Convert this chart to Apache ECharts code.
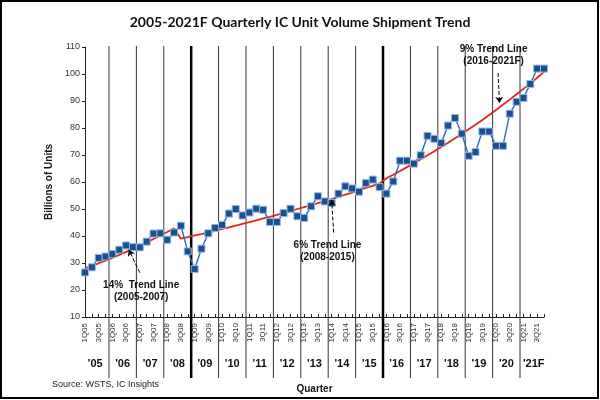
<!DOCTYPE html>
<html><head><meta charset="utf-8">
<script src="https://cdn.jsdelivr.net/npm/echarts@6/dist/echarts.min.js"></script>
<style>html,body{margin:0;padding:0;background:#fff}#c{width:600px;height:400px}</style>
</head><body><div id="c"></div>
<script>
const quarters = ['1Q05','2Q05','3Q05','4Q05','1Q06','2Q06','3Q06','4Q06','1Q07','2Q07','3Q07','4Q07',
'1Q08','2Q08','3Q08','4Q08','1Q09','2Q09','3Q09','4Q09','1Q10','2Q10','3Q10','4Q10',
'1Q11','2Q11','3Q11','4Q11','1Q12','2Q12','3Q12','4Q12','1Q13','2Q13','3Q13','4Q13',
'1Q14','2Q14','3Q14','4Q14','1Q15','2Q15','3Q15','4Q15','1Q16','2Q16','3Q16','4Q16',
'1Q17','2Q17','3Q17','4Q17','1Q18','2Q18','3Q18','4Q18','1Q19','2Q19','3Q19','4Q19',
'1Q20','2Q20','3Q20','4Q20','1Q21','2Q21','3Q21','4Q21'];
const yearLabels = ["'05","'06","'07","'08","'09","'10","'11","'12","'13","'14","'15","'16","'17","'18","'19","'20","'21F"];
const thickYears = ["'09","'16"];
const units = [26.5,28.4,31.9,32.4,33.3,34.9,36.5,35.9,35.8,37.9,40.9,41.0,
38.6,41.3,43.8,34.3,27.8,35.3,41.0,43.0,44.1,48.3,50.0,47.6,
48.7,50.1,49.7,45.2,45.2,48.5,50.1,47.3,46.7,51.0,54.7,52.8,
52.2,55.7,58.4,57.6,56.4,59.6,60.9,58.1,55.7,60.2,67.9,67.9,
66.8,69.9,77.1,76.0,74.4,80.9,83.7,77.9,69.7,71.1,78.7,78.7,
73.4,73.4,85.3,89.7,91.1,96.3,102.0,102.0];
const trend = [28.0,28.9,29.9,30.9,31.9,33.0,34.1,35.2,36.4,37.6,38.9,40.2,
41.5,42.9,39.0,39.6,40.2,40.7,41.3,41.9,42.6,43.2,43.8,44.5,
45.1,45.8,46.5,47.1,47.8,48.5,49.2,50.0,50.7,51.4,52.2,53.0,
53.7,54.5,55.3,56.1,57.0,57.8,58.6,59.5,61.4,62.7,64.1,65.5,
66.9,68.4,69.9,71.4,73.0,74.5,76.2,77.8,79.5,81.2,83.0,84.8,
86.7,88.6,90.5,92.5,94.5,96.5,98.6,100.8];

const chart = echarts.init(document.getElementById('c'));
const FONT = 'Liberation Sans, Arial, sans-serif';
chart.setOption({
  animation: false,
  backgroundColor: '#fff',
  title: {
    text: '2005-2021F Quarterly IC Unit Volume Shipment Trend',
    left: 'center', top: 10,
    textStyle: {fontFamily: 'Lato', fontWeight: 'bold', fontSize: 14, color: '#111'}
  },
  graphic: [
    {type: 'rect', shape: {x: 1, y: 1, width: 597, height: 397}, style: {fill: 'none', stroke: '#000', lineWidth: 2}, silent: true},
    {type: 'text', left: 52, top: 380, style: {text: 'Source: WSTS, IC Insights', font: '9px ' + FONT, fill: '#222'}}
  ],
  grid: {left: 85, right: 56, top: 47, bottom: 83},
  xAxis: [{
    type: 'category', data: quarters, boundaryGap: false,
    name: 'Quarter', nameLocation: 'middle', nameGap: 67,
    nameTextStyle: {fontFamily: FONT, fontWeight: 'bold', fontSize: 10, color: '#111'},
    axisLine: {lineStyle: {color: '#222', width: 1}},
    axisTick: {show: true, interval: 0, inside: true, length: 3, lineStyle: {color: '#222'}},
    axisLabel: {interval: 1, rotate: 90, fontSize: 8, margin: 6, color: '#333', fontFamily: FONT},
    splitLine: {show: false}
  }, {
    type: 'value', min: 0, max: quarters.length - 1, show: false
  }],
  yAxis: {
    type: 'value', min: 10, max: 110, interval: 10,
    name: 'Billions of Units', nameLocation: 'middle', nameGap: 29,
    nameTextStyle: {fontFamily: FONT, fontWeight: 'bold', fontSize: 10, color: '#111'},
    axisLine: {show: true, lineStyle: {color: '#222', width: 1}},
    axisTick: {show: true, length: 3, lineStyle: {color: '#222'}},
    axisLabel: {fontSize: 9, color: '#333', margin: 5, fontFamily: FONT},
    splitLine: {show: false}
  },
  series: [
    {
      type: 'custom', xAxisIndex: 1, clip: false, silent: true, z: 1,
      data: yearLabels.map((l, k) => [k * 4 + 1.5, 10]),
      renderItem: function (params, api) {
        const k = params.dataIndex;
        const c = api.coord([k * 4 + 1.5, 10]);
        const children = [{
          type: 'text', x: c[0], y: c[1] + 47,
          style: {text: yearLabels[k], font: 'bold 11px ' + FONT, fill: '#111', align: 'center', verticalAlign: 'middle'}
        }];
        if (k > 0) {
          const top = api.coord([k * 4 - 0.5, 110]);
          const thick = thickYears.indexOf(yearLabels[k]) >= 0;
          children.push({
            type: 'line',
            shape: {x1: top[0], y1: top[1] - 1, x2: top[0], y2: c[1] + 61},
            style: {stroke: thick ? '#000' : '#333', lineWidth: thick ? 2.5 : 1}
          });
        }
        return {type: 'group', children: children};
      }
    },
    {
      name: 'Trend', type: 'line', data: trend, symbol: 'none', z: 3, smooth: false,
      lineStyle: {color: '#e8231c', width: 1.8}
    },
    {
      name: 'Units', type: 'line', data: units, z: 4, smooth: false,
      symbol: 'rect', symbolSize: 7, showSymbol: true, showAllSymbol: true,
      itemStyle: {color: '#1f4e8c', borderColor: '#8dbbe6', borderWidth: 1},
      lineStyle: {color: '#2e6bb0', width: 1.4}
    },
    {
      type: 'line', xAxisIndex: 1, data: [], z: 5, silent: true,
      markLine: {
        silent: true, symbol: ['none', 'arrow'], symbolSize: 6,
        lineStyle: {type: 'dashed', color: '#000', width: 1},
        label: {show: false},
        data: [
          [{coord: [8.0, 26.4]}, {coord: [6.4, 34.9]}],
          [{coord: [36.3, 41.3]}, {coord: [36.0, 53.4]}],
          [{coord: [60.3, 100.4]}, {coord: [60.5, 89.3]}]
        ]
      },
      markPoint: {
        silent: true, symbol: 'circle', symbolSize: 1,
        itemStyle: {color: 'rgba(0,0,0,0)'},
        label: {show: true, position: 'inside', fontFamily: FONT, fontWeight: 'bold', fontSize: 10, lineHeight: 12, color: '#111', align: 'center', verticalAlign: 'middle'},
        data: [
          {coord: [8.2, 19.6], label: {formatter: '14%  Trend Line\n(2005-2007)'}},
          {coord: [35.4, 34.5], label: {formatter: '6% Trend Line\n(2008-2015)'}},
          {coord: [59.65, 106.9], label: {formatter: '9% Trend Line\n(2016-2021F)'}}
        ]
      }
    }
  ]
});
</script></body></html>
